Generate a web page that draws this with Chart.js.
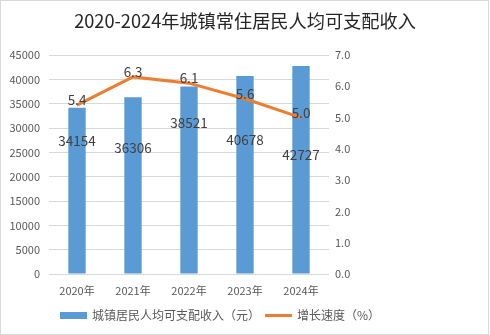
<!DOCTYPE html>
<html>
<head>
<meta charset="utf-8">
<script src="https://cdn.jsdelivr.net/npm/chart.js@4.4.1/dist/chart.umd.min.js"></script>
<style>
  html, body { margin: 0; padding: 0; background: #fff; }
  #wrap { width: 490px; height: 335px; }
</style>
</head>
<body>
<div id="wrap"><canvas id="chart" width="490" height="335"></canvas></div>
<script>
// 2020-2024 城镇居民收入 + 增速
const years = ['2020年', '2021年', '2022年', '2023年', '2024年'];
const income = [34154, 36306, 38521, 40678, 42727];
const growth = [5.4, 6.3, 6.1, 5.6, 5.0];
const incomeTicks = [0, 5000, 10000, 15000, 20000, 25000, 30000, 35000, 40000, 45000];
const growthTicks = [0, 1, 2, 3, 4, 5, 6, 7];

const TITLE = '2020-2024年城镇常住居民人均可支配收入';
const BAR_LABEL = '城镇居民人均可支配收入（元）';
const LINE_LABEL = '增长速度（%）';

const FONT = '"Noto Sans CJK SC", "Noto Sans", sans-serif';
const BLUE = '#5B9BD5';
const ORANGE = '#ED7D31';

// etiquetas de barras colocadas a mano en el original (px bajo el tope)
const barLabelDrop = [33, 51, 36, 64, 89];

const decor = {
  id: 'decor',
  afterDatasetsDraw(chart) {
    const ctx = chart.ctx;
    ctx.save();
    ctx.fillStyle = '#404040';
    ctx.font = '13.5px ' + FONT;
    ctx.textAlign = 'center';
    ctx.textBaseline = 'middle';

    chart.getDatasetMeta(0).data.forEach((bar, i) => {
      ctx.fillText(String(income[i]), bar.x, bar.y + barLabelDrop[i]);
    });
    chart.getDatasetMeta(1).data.forEach((pt, i) => {
      ctx.fillText(growth[i].toFixed(1), pt.x, pt.y - 5);
    });
    ctx.restore();
  },
  afterDraw(chart) {
    const ctx = chart.ctx;
    const W = chart.width, H = chart.height;
    ctx.save();

    // marco
    ctx.strokeStyle = '#d9d9d9';
    ctx.lineWidth = 1;
    ctx.strokeRect(0.5, 0.5, W - 2, H - 1);

    // titulo
    ctx.fillStyle = '#262626';
    ctx.font = '18.2px ' + FONT;
    ctx.textAlign = 'center';
    ctx.textBaseline = 'middle';
    ctx.fillText(TITLE, 245, 21);

    // leyenda
    const ly = 315.5;
    ctx.font = '12px ' + FONT;
    ctx.textAlign = 'left';
    ctx.fillStyle = BLUE;
    ctx.fillRect(60, ly - 3.5, 27, 7);
    ctx.fillStyle = '#595959';
    ctx.fillText(BAR_LABEL, 92, ly);

    ctx.strokeStyle = ORANGE;
    ctx.lineWidth = 3;
    ctx.beginPath();
    ctx.moveTo(265, ly);
    ctx.lineTo(292, ly);
    ctx.stroke();
    ctx.fillText(LINE_LABEL, 297, ly);

    ctx.restore();
  }
};

const tickFont = { family: FONT, size: 11 };

new Chart(document.getElementById('chart'), {
  data: {
    labels: years,
    datasets: [
      {
        type: 'bar',
        label: BAR_LABEL,
        data: income,
        yAxisID: 'y',
        backgroundColor: BLUE,
        barPercentage: 0.31,
        categoryPercentage: 1,
        order: 1,
      },
      {
        type: 'line',
        label: LINE_LABEL,
        data: growth,
        yAxisID: 'y1',
        borderColor: ORANGE,
        backgroundColor: ORANGE,
        borderWidth: 3,
        pointRadius: 0,
        tension: 0,
        order: 0,
      }
    ]
  },
  options: {
    responsive: false,
    animation: false,
    layout: { padding: { top: 55, bottom: 31, left: 0, right: 0 } },
    plugins: {
      legend: { display: false },
      title: { display: false },
      tooltip: { enabled: false },
    },
    scales: {
      x: {
        grid: { display: false, drawTicks: false },
        border: { display: false },
        ticks: { color: '#595959', font: tickFont, padding: 10 },
        afterFit: s => { s.height = 30; },
      },
      y: {
        position: 'left',
        min: 0,
        max: 45000,
        afterBuildTicks: s => { s.ticks = incomeTicks.map(v => ({ value: v })); },
        grid: { color: '#d9d9d9', drawTicks: false },
        border: { display: false },
        ticks: { color: '#595959', font: tickFont, padding: 9, callback: v => String(v) },
        afterFit: s => { s.width = 49; },
      },
      y1: {
        position: 'right',
        min: 0,
        max: 7,
        afterBuildTicks: s => { s.ticks = growthTicks.map(v => ({ value: v })); },
        grid: { display: false, drawTicks: false },
        border: { display: false },
        ticks: { color: '#595959', font: tickFont, padding: 6, callback: v => v.toFixed(1) },
        afterFit: s => { s.width = 161; },
      }
    }
  },
  plugins: [decor]
});
</script>
</body>
</html>
